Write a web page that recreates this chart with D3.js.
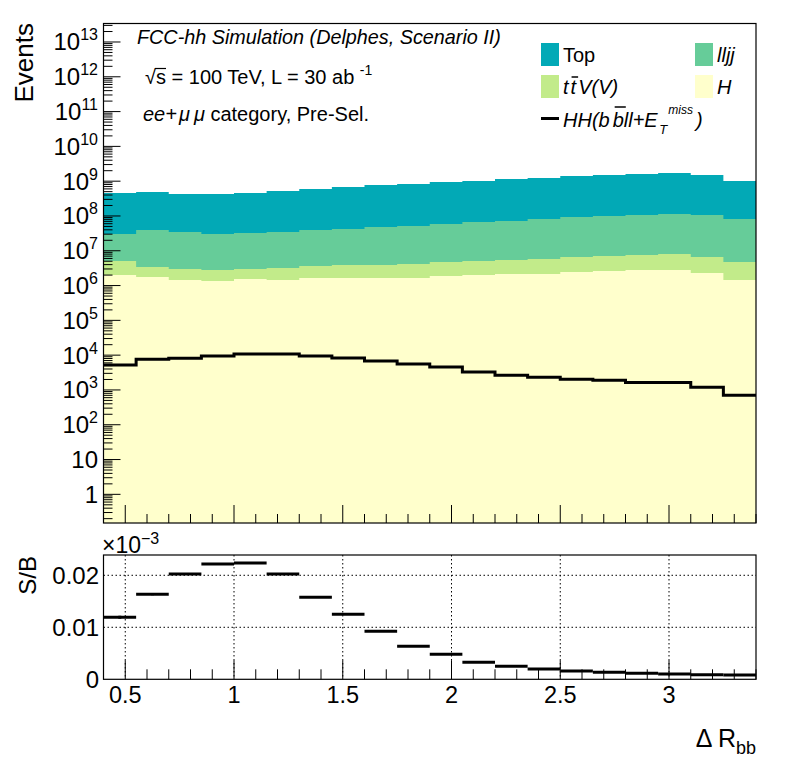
<!DOCTYPE html>
<html><head><meta charset="utf-8">
<script src="https://cdn.jsdelivr.net/npm/d3@7"></script>
<style>body{margin:0;background:#fff}svg{display:block}text{font-family:"Liberation Sans",Arial,Helvetica,sans-serif}</style>
</head><body>
<script>
const binEdges = [0.4,0.55,0.7,0.85,1.0,1.15,1.3,1.45,1.6,1.75,1.9,2.05,2.2,2.35,2.5,2.65,2.8,2.95,3.1,3.25,3.4];
const bkgH    = [2.00e6,1.75e6,1.44e6,1.35e6,1.54e6,1.44e6,1.64e6,1.64e6,1.64e6,1.64e6,1.88e6,2.00e6,2.14e6,2.14e6,2.44e6,2.61e6,2.79e6,2.79e6,2.29e6,1.44e6];
const bkgTTV  = [3.06e6,1.65e6,1.54e6,1.44e6,1.44e6,1.74e6,1.99e6,2.24e6,2.24e6,2.51e6,2.85e6,3.06e6,3.27e6,3.63e6,4.15e6,4.43e6,4.73e6,5.25e6,4.30e6,3.29e6];
const bkgLLJJ = [2.51e7,3.60e7,3.15e7,2.74e7,2.93e7,3.13e7,3.58e7,3.82e7,4.41e7,4.72e7,5.38e7,6.17e7,6.59e7,7.56e7,8.63e7,9.23e7,9.85e7,1.05e8,9.94e7,7.67e7];
const bkgTop  = [4.25e8,4.48e8,3.92e8,3.96e8,4.23e8,4.86e8,5.54e8,6.35e8,7.25e8,7.75e8,8.84e8,9.43e8,1.08e9,1.15e9,1.31e9,1.40e9,1.49e9,1.60e9,1.39e9,9.29e8];
const signalHH = [5200,7570,8090,9420,10760,10760,9420,8260,6760,5550,4550,3270,2630,2300,2020,1890,1650,1650,1190,700];
const sOverB  = [0.01192,0.01635,0.02025,0.02217,0.02237,0.02025,0.01577,0.0125,0.00923,0.00635,0.00481,0.00327,0.0025,0.00198,0.0016,0.00135,0.00115,0.00102,0.00088,0.00083];
const sOverBErr = [0.0003,0.0002,0.0002,0.0002,0.0002,0.0002,0,0,0,0,0,0,0,0,0,0,0,0,0,0];
const xTickLabels = ["0.5","1","1.5","2","2.5","3"];
const xTickValues = [0.5,1,1.5,2,2.5,3];
const sbTickValues = [0,0.01,0.02];
const sbTickLabels = ["0","0.01","0.02"];
const logMajorExps = [0,1,2,3,4,5,6,7,8,9,10,11,12,13];

const colors = {Top:"#02a9b6", lljj:"#66cc99", ttV:"#c2eb8a", H:"#ffffcc"};

const W=796,H=772;
const svg = d3.select("body").append("svg").attr("width",W).attr("height",H);
const L=103.5, R=756;
const topT=23.5, topB=523, botT=555, botB=679.3;

const x = d3.scaleLinear().domain([0.4,3.4]).range([L,R]);
const y = d3.scaleLog().domain([0.15,3.4e13]).range([topB,topT]);
const yb = d3.scaleLinear().domain([0,0.0239]).range([botB,botT]);

svg.append("clipPath").attr("id","cTop").append("rect").attr("x",L).attr("y",topT).attr("width",R-L).attr("height",topB-topT);
svg.append("clipPath").attr("id","cBot").append("rect").attr("x",L).attr("y",botT).attr("width",R-L).attr("height",botB-botT);

const rows = binEdges.slice(0,-1).map((e,i)=>({i,H:bkgH[i],ttV:bkgTTV[i],lljj:bkgLLJJ[i],Top:bkgTop[i]}));
const keys = ["H","ttV","lljj","Top"];
const stacked = d3.stack().keys(keys)(rows);

const gTop = svg.append("g").attr("clip-path","url(#cTop)");
function stepPts(vals){
  const pts = vals.map((v,i)=>[binEdges[i],v]);
  pts.push([binEdges[binEdges.length-1], vals[vals.length-1]]);
  return pts;
}
const area = d3.area().curve(d3.curveStepAfter).x(d=>x(d[0])).y0(topB).y1(d=>y(d[1]));
for(let k=keys.length-1;k>=0;k--){
  const tops = stacked[k].map(d=>d[1]);
  gTop.append("path").datum(stepPts(tops)).attr("d",area).attr("fill",colors[keys[k]]).attr("stroke","none");
}
const line = d3.line().curve(d3.curveStepAfter).x(d=>x(d[0])).y(d=>y(d[1]));
gTop.append("path").datum(stepPts(signalHH)).attr("d",line).attr("fill","none").attr("stroke","#000").attr("stroke-width",3);

svg.append("rect").attr("x",L).attr("y",topT).attr("width",R-L).attr("height",topB-topT).attr("fill","none").attr("stroke","#000").attr("stroke-width",1.2);

const ax = svg.append("g");
for(let v=0.4; v<=3.4001; v+=0.1){
  const vv = Math.round(v*10)/10;
  const major = Math.abs(vv*2-Math.round(vv*2))<1e-6;
  ax.append("line").attr("x1",x(vv)).attr("x2",x(vv)).attr("y1",topB).attr("y2",topB-(major?18:9)).attr("stroke","#000");
  ax.append("line").attr("x1",x(vv)).attr("x2",x(vv)).attr("y1",botB).attr("y2",botB-(major?19:10)).attr("stroke","#000");
}
for(let n=-1;n<=13;n++){
  for(let k=1;k<=9;k++){
    const v = k*Math.pow(10,n);
    if(v<0.15||v>3.4e13) continue;
    ax.append("line").attr("x1",L).attr("x2",L+(k===1?17:9)).attr("y1",y(v)).attr("y2",y(v)).attr("stroke","#000");
  }
}
logMajorExps.forEach(n=>{
  const t = svg.append("text").attr("x",98).attr("y",y(Math.pow(10,n))+8.5).attr("text-anchor","end").attr("font-size",24).attr("fill","#000");
  if(n===0){ t.text("1"); }
  else if(n===1){ t.text("10"); }
  else {
    t.append("tspan").text("10");
    t.append("tspan").attr("dy",-10).attr("font-size",16).text(String(n));
  }
});
svg.append("text").attr("transform","translate(33,23) rotate(-90)").attr("text-anchor","end").attr("font-size",26).text("Events");

const gB = svg.append("g").attr("clip-path","url(#cBot)");
xTickValues.forEach(v=>gB.append("line").attr("x1",x(v)).attr("x2",x(v)).attr("y1",botT).attr("y2",botB).attr("stroke","#000").attr("stroke-width",1).attr("stroke-dasharray","1.5,2.5"));
sbTickValues.slice(1).forEach(v=>gB.append("line").attr("x1",L).attr("x2",R).attr("y1",yb(v)).attr("y2",yb(v)).attr("stroke","#000").attr("stroke-width",1).attr("stroke-dasharray","1.5,2.5"));
sOverB.forEach((v,i)=>{
  gB.append("line").attr("x1",x(binEdges[i])).attr("x2",x(binEdges[i+1])).attr("y1",yb(v)).attr("y2",yb(v)).attr("stroke","#000").attr("stroke-width",3);
  if(sOverBErr[i]>0){
    const xc = x((binEdges[i]+binEdges[i+1])/2);
    gB.append("line").attr("x1",xc).attr("x2",xc).attr("y1",yb(v+sOverBErr[i])).attr("y2",yb(v-sOverBErr[i])).attr("stroke","#000").attr("stroke-width",3);
  }
});
svg.append("rect").attr("x",L).attr("y",botT).attr("width",R-L).attr("height",botB-botT).attr("fill","none").attr("stroke","#000").attr("stroke-width",1.2);
xTickValues.forEach((v,i)=>svg.append("text").attr("x",x(v)).attr("y",703).attr("text-anchor","middle").attr("font-size",23.5).text(xTickLabels[i]));
sbTickValues.forEach((v,i)=>svg.append("text").attr("x",99).attr("y",yb(v)+8.5).attr("text-anchor","end").attr("font-size",24).text(sbTickLabels[i]));
const e3 = svg.append("text").attr("x",102).attr("y",553).attr("font-size",23);
e3.append("tspan").text("×10");
e3.append("tspan").attr("dy",-9).attr("font-size",16).text("−3");
svg.append("text").attr("transform","translate(36,556) rotate(-90)").attr("text-anchor","end").attr("font-size",24).text("S/B");
const xl = svg.append("text").attr("x",756).attr("y",747).attr("text-anchor","end").attr("font-size",25);
xl.append("tspan").text("Δ R");
xl.append("tspan").attr("dy",7).attr("font-size",18).text("bb");

svg.append("text").attr("x",137).attr("y",44).attr("font-size",19.8).attr("font-style","italic").text("FCC-hh Simulation (Delphes, Scenario II)");
const sq = svg.append("text").attr("x",145).attr("y",84).attr("font-size",20);
sq.append("tspan").text("√s = 100 TeV, L = 30 ab ");
sq.append("tspan").attr("dy",-9).attr("font-size",14).text(" -1");
{
  const ext = sq.node().getExtentOfChar(1);
  svg.append("line").attr("x1",ext.x-1).attr("x2",ext.x+ext.width).attr("y1",68.5).attr("y2",68.5).attr("stroke","#000").attr("stroke-width",1.2);
}
const cat = svg.append("text").attr("x",143).attr("y",121).attr("font-size",20);
cat.append("tspan").attr("font-style","italic").text("ee+");
cat.append("tspan").attr("font-style","italic").attr("dx",2).text("μ");
cat.append("tspan").attr("font-style","italic").attr("dx",4).text("μ");
cat.append("tspan").text(" category, Pre-Sel.");

const leg = [
  {x:541,y:43,c:colors.Top,parts:["Top"],it:false},
  {x:695,y:43,c:colors.lljj,parts:["lljj"],it:true},
  {x:541,y:75,c:colors.ttV,parts:["t","t","V(V)"],it:true,bar:1},
  {x:695,y:75,c:colors.H,parts:["H"],it:true}
];
leg.forEach(d=>{
  svg.append("rect").attr("x",d.x).attr("y",d.y).attr("width",18).attr("height",23).attr("fill",d.c);
  const t = svg.append("text").attr("x",d.x+22).attr("y",d.y+19).attr("font-size",20).attr("font-style",d.it?"italic":"normal");
  d.parts.forEach((p,j)=>t.append("tspan").attr("dx",j?2:0).text(p));
  if(d.bar!==undefined){
    const ext = t.node().getExtentOfChar(d.bar);
    svg.append("line").attr("x1",ext.x+1).attr("x2",ext.x+ext.width+2).attr("y1",d.y+2).attr("y2",d.y+2).attr("stroke","#000").attr("stroke-width",1.5);
  }
});
svg.append("line").attr("x1",541).attr("x2",559).attr("y1",118.5).attr("y2",118.5).attr("stroke","#000").attr("stroke-width",3);
const hh = svg.append("text").attr("x",563).attr("y",127).attr("font-size",20).attr("font-style","italic");
hh.append("tspan").text("HH(b");
hh.append("tspan").attr("dx",3).text("b");
hh.append("tspan").text("ll+E");
{
  const n = hh.node();
  const ext = n.getExtentOfChar(4);
  svg.append("line").attr("x1",ext.x+2).attr("x2",ext.x+ext.width+2).attr("y1",107).attr("y2",107).attr("stroke","#000").attr("stroke-width",1.5);
  const bb = n.getBBox();
  const xe = bb.x+bb.width;
  svg.append("text").attr("x",xe+1).attr("y",134).attr("font-size",13).attr("font-style","italic").text("T");
  const ms = svg.append("text").attr("x",xe+10).attr("y",114).attr("font-size",12).attr("font-style","italic").text("miss");
  const ml = ms.node().getComputedTextLength();
  svg.append("text").attr("x",xe+10+ml+3).attr("y",127).attr("font-size",20).attr("font-style","italic").text(")");
}
</script>
</body></html>
